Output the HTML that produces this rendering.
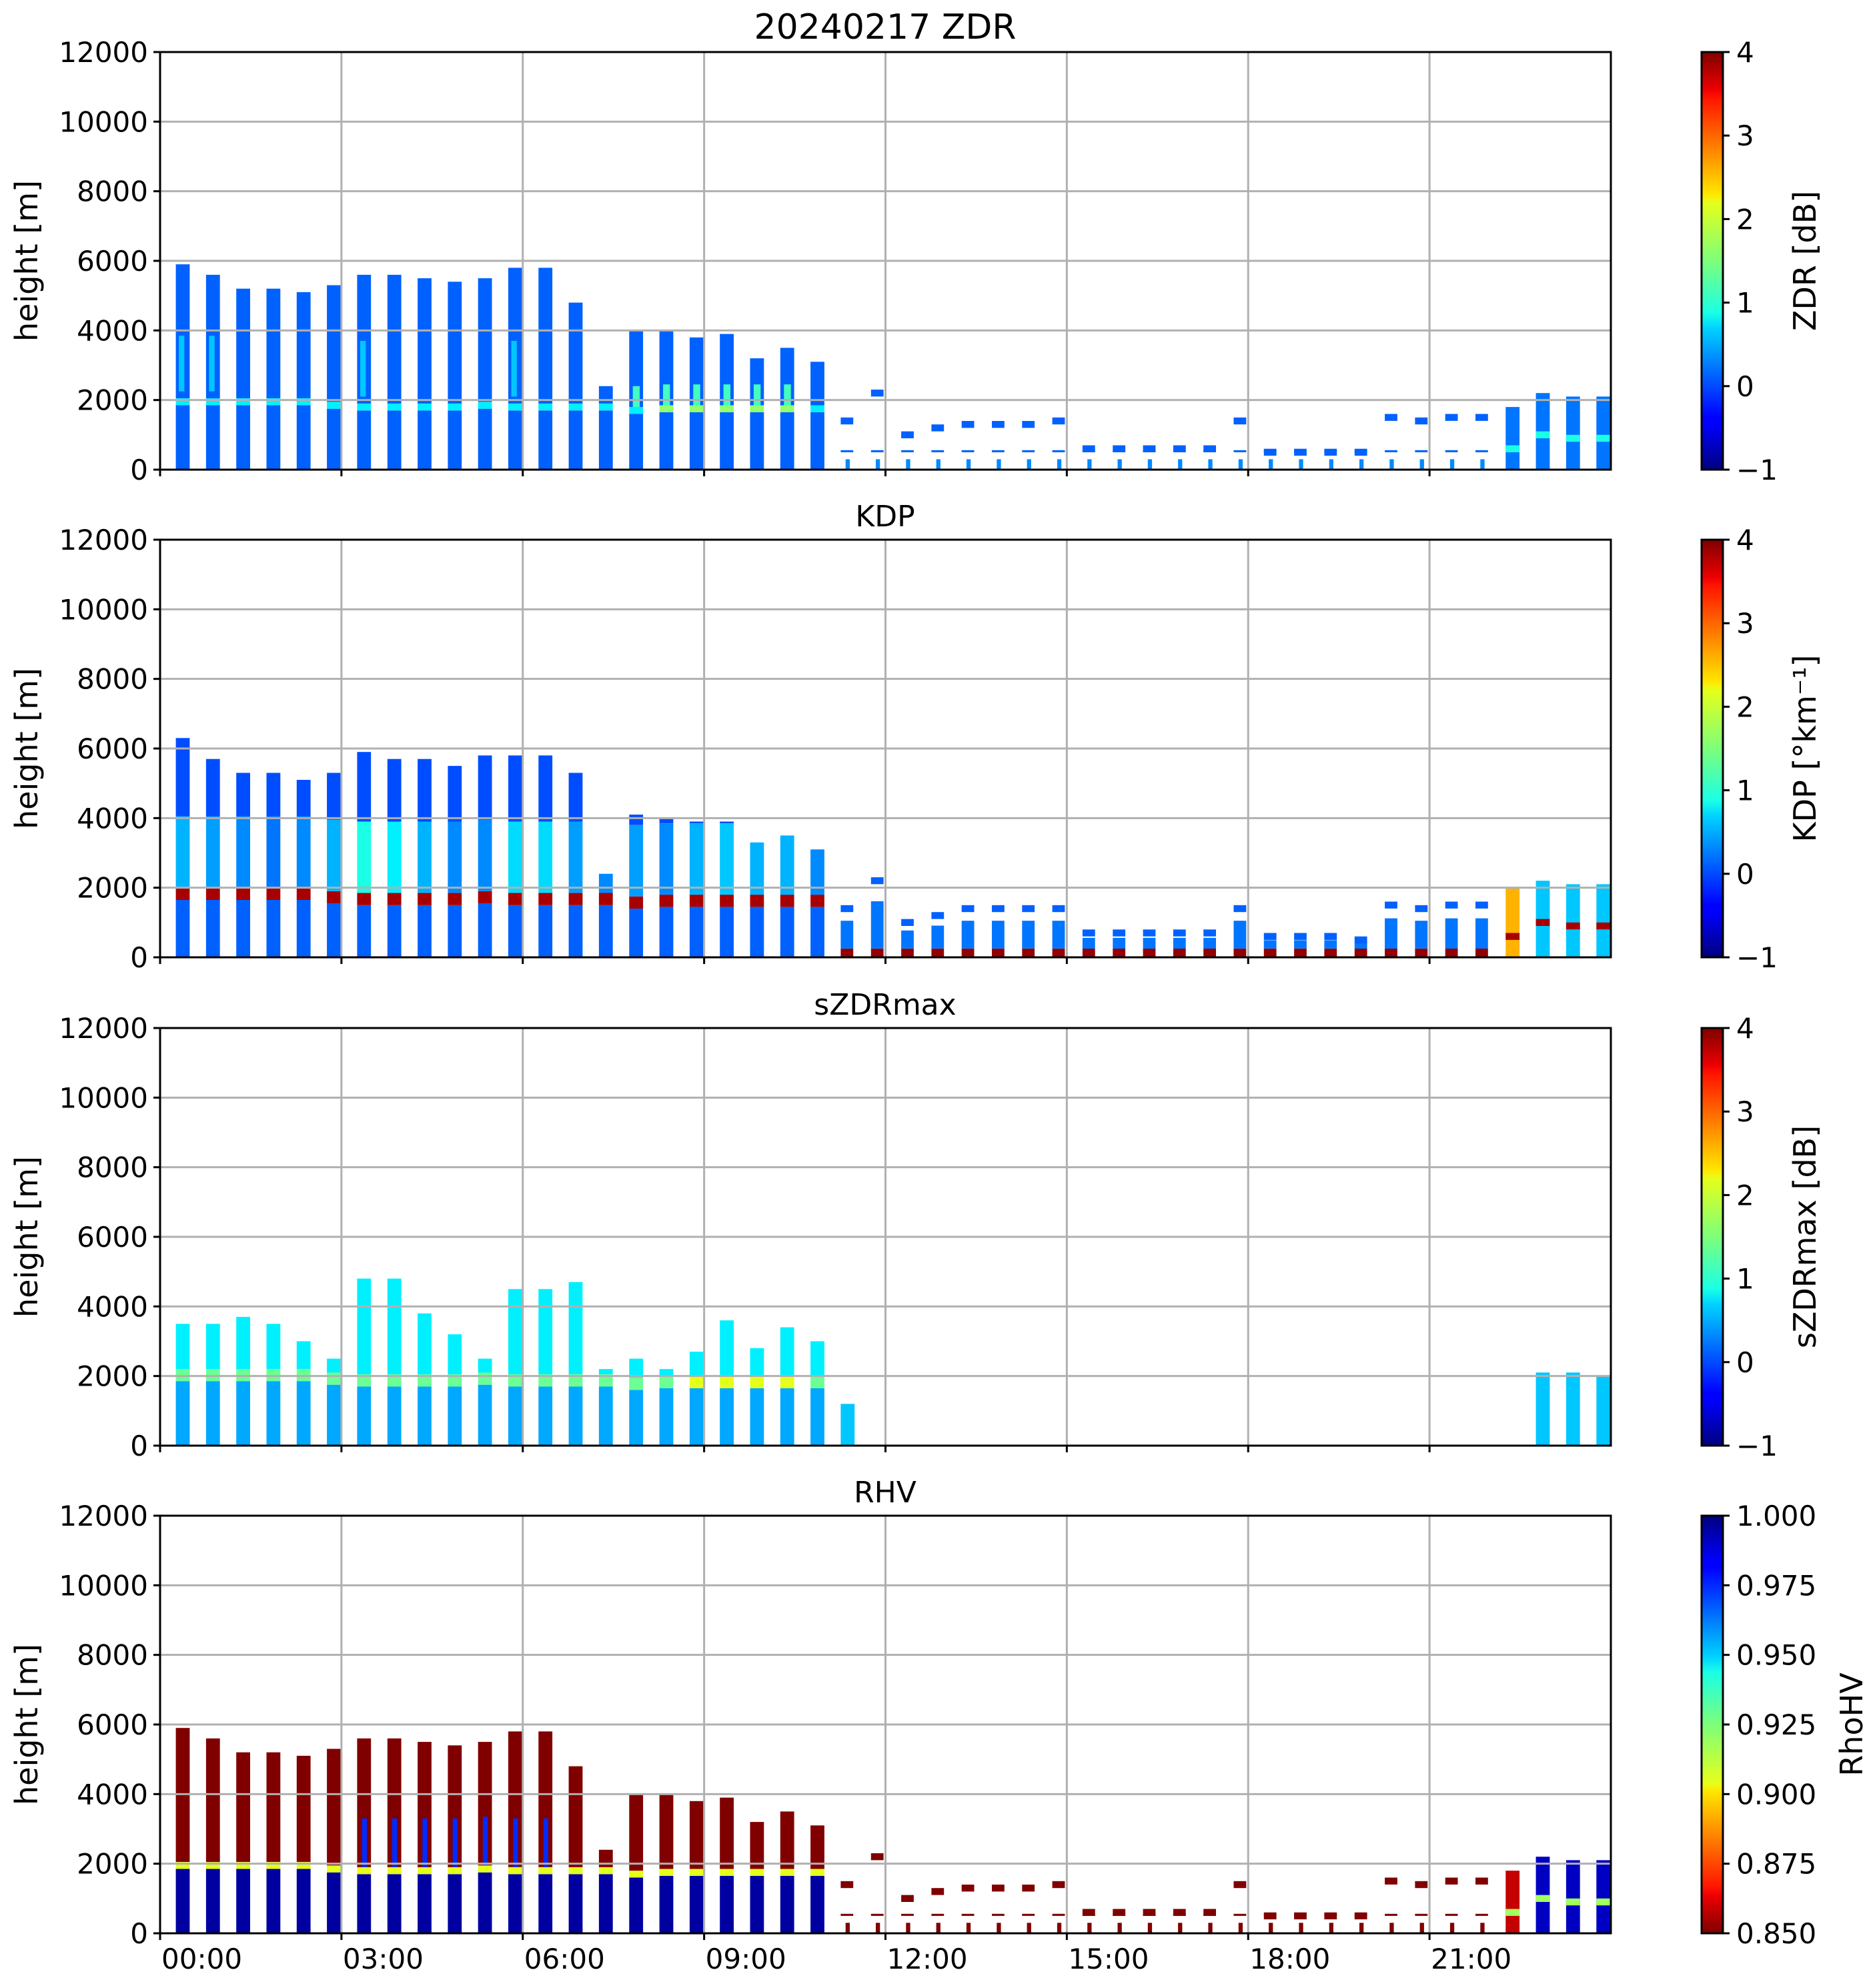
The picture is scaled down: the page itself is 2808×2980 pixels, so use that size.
<!DOCTYPE html>
<html><head><meta charset="utf-8">
<style>
html,body{margin:0;padding:0;background:#fff;}
svg{display:block;}
text{font-family:"DejaVu Sans","Liberation Sans",sans-serif;fill:#000;}
</style></head>
<body>
<svg id="fig" width="2808" height="2980" viewBox="0 0 2808 2980" xmlns="http://www.w3.org/2000/svg">
<defs>
<linearGradient id="jet" x1="0" y1="1" x2="0" y2="0">
<stop offset="0" stop-color="#00007f"/><stop offset="0.11" stop-color="#0000ff"/><stop offset="0.125" stop-color="#0000ff"/>
<stop offset="0.34" stop-color="#00d4ff"/><stop offset="0.375" stop-color="#1affe6"/><stop offset="0.5" stop-color="#7dff7a"/>
<stop offset="0.64" stop-color="#e6ff1a"/><stop offset="0.66" stop-color="#ffe600"/><stop offset="0.89" stop-color="#ff1400"/>
<stop offset="0.91" stop-color="#ed0000"/><stop offset="1" stop-color="#7f0000"/>
</linearGradient>
<linearGradient id="jetr" x1="0" y1="0" x2="0" y2="1">
<stop offset="0" stop-color="#00007f"/><stop offset="0.11" stop-color="#0000ff"/><stop offset="0.125" stop-color="#0000ff"/>
<stop offset="0.34" stop-color="#00d4ff"/><stop offset="0.375" stop-color="#1affe6"/><stop offset="0.5" stop-color="#7dff7a"/>
<stop offset="0.64" stop-color="#e6ff1a"/><stop offset="0.66" stop-color="#ffe600"/><stop offset="0.89" stop-color="#ff1400"/>
<stop offset="0.91" stop-color="#ed0000"/><stop offset="1" stop-color="#7f0000"/>
</linearGradient>
</defs>
</svg>
<script>
// ---- data ----
const columnTimes = [0.26,0.76,1.26,1.76,2.26,2.76,3.26,3.76,4.26,4.76,5.26,5.76,6.26,6.76,7.26,7.76,8.26,8.76,9.26,9.76,10.26,10.76,11.26,11.76,12.26,12.76,13.26,13.76,14.26,14.76,15.26,15.76,16.26,16.76,17.26,17.76,18.26,18.76,19.26,19.76,20.26,20.76,21.26,21.76,22.26,22.76,23.26,23.76];
const zdrTop  = [5900,5600,5200,5200,5100,5300,5600,5600,5500,5400,5500,5800,5800,4800,2400,4000,4000,3800,3900,3200,3500,3100,1500,2300,1100,1300,1400,1400,1400,1500,700,700,700,700,700,1500,600,600,600,600,1600,1500,1600,1600,1800,2200,2100,2100];
const kdpTop  = [6300,5700,5300,5300,5100,5300,5900,5700,5700,5500,5800,5800,5800,5300,2400,4100,4000,3900,3900,3300,3500,3100,1500,2300,1100,1300,1500,1500,1500,1500,800,800,800,800,800,1500,700,700,700,600,1600,1500,1600,1600,2000,2200,2100,2100];
const szdrTop = [3500,3500,3700,3500,3000,2500,4800,4800,3800,3200,2500,4500,4500,4700,2200,2500,2200,2700,3600,2800,3400,3000,1200,0,0,0,0,0,0,0,0,0,0,0,0,0,0,0,0,0,0,0,0,0,0,2100,2100,2000];
const meltHeight = [1850,1850,1850,1850,1850,1750,1700,1700,1700,1700,1750,1700,1700,1700,1700,1600,1650,1650,1650,1650,1650,1650,600,600,600,600,600,600,600,600,600,600,600,600,600,600,600,600,600,600,600,600,600,600,600,1000,900,900];
const kdpMidVal = [0.5,0.4,0.3,0.2,0.3,0.5,1.0,0.8,0.5,0.3,0.3,0.7,0.7,0.4,0.3,0.4,0.3,0.5,0.6,0.5,0.5,0.3];
const xTickLabels = ["00:00","03:00","06:00","09:00","12:00","15:00","18:00","21:00"];
const xTickHours = [0,3,6,9,12,15,18,21];
const yTicks = [0,2000,4000,6000,8000,10000,12000];
const cbTicksJet = [-1,0,1,2,3,4];
const cbTicksRhv = [0.850,0.875,0.900,0.925,0.950,0.975,1.000];

// ---- layout ----
const NS="http://www.w3.org/2000/svg";
const svg=document.getElementById('fig');
const AX_L=240, AX_R=2415, AX_H=626;
const panelTops=[78,809,1541,2272];
const CB_L=2551, CB_W=32;
function xScale(t){return AX_L+t*(AX_R-AX_L)/24;}
function yScale(h,p){return panelTops[p]+AX_H*(1-h/12000);}
function el(tag,attrs,parent){const e=document.createElementNS(NS,tag);for(const k in attrs)e.setAttribute(k,attrs[k]);(parent||svg).appendChild(e);return e;}
function jet(v){
  v=Math.max(0,Math.min(1,v));
  const r=Math.max(0,Math.min(1,1.5-Math.abs(4*v-3)));
  const g=Math.max(0,Math.min(1,1.5-Math.abs(4*v-2)));
  const b=Math.max(0,Math.min(1,1.5-Math.abs(4*v-1)));
  return 'rgb('+Math.round(r*255)+','+Math.round(g*255)+','+Math.round(b*255)+')';
}
function cZ(v){return jet((v+1)/5);}
function cR(v){return jet(1-(v-0.85)/0.15);}
const BW=0.23;

function seg(g,p,i,h0,h1,color,wf,xo){
  if(h1<=h0)return;
  const w=BW*(wf||1);
  const t0=columnTimes[i]+(xo||0);
  const x=xScale(t0);
  const r=el('rect',{x:x.toFixed(1),y:yScale(h1,p).toFixed(1),width:(xScale(t0+w)-x).toFixed(1),height:(yScale(h0,p)-yScale(h1,p)).toFixed(1),fill:color},g);
  
  
}

const titles=["20240217 ZDR","KDP","sZDRmax","RHV"];
const cbLabels=["ZDR [dB]","KDP [°km⁻¹]","sZDRmax [dB]","RhoHV"];
const panelNames=["zdr","kdp","szdrmax","rhv"];

for(let p=0;p<4;p++){
  const top=panelTops[p];
  const g=el('g',{});
  
  
  const tt=el('text',{x:1327,y:top-20,'text-anchor':'middle','font-size':p===0?52:44},g);
  tt.textContent=titles[p];
  
  
  const dg=el('g',{},g);
  
  
  for(let i=0;i<columnTimes.length;i++){
    const ml=meltHeight[i];
    const solid=i<=21;
    if(p===0){
      const t=zdrTop[i];
      if(solid){
        seg(dg,p,i,0,ml,cZ(0.1));
        seg(dg,p,i,ml,Math.min(t,ml+200),cZ(i>=16&&i<=20?1.6:0.8));
        seg(dg,p,i,ml+200,t,cZ(0.1));
        if(i>=15&&i<=20) seg(dg,p,i,ml+200,ml+800,cZ(1.2),0.5,0.06);
        if(i<=1||i===6||i===11) seg(dg,p,i,ml+400,ml+2000,cZ(0.6),0.4,0.05);
      } else if(i>=44){
        seg(dg,p,i,0,t,cZ(0.2));
        seg(dg,p,i,ml-100,ml+100,cZ(1.0));
      } else {
        seg(dg,p,i,t-200,t,cZ(0.1),0.9);
        seg(dg,p,i,500,560,cZ(0.1),0.9);
        seg(dg,p,i,0,300,cZ(0.3),0.3,0.08);
      }
    } else if(p===1){
      const t=kdpTop[i];
      if(solid){
        seg(dg,p,i,0,ml-200,cZ(0.1));
        seg(dg,p,i,ml-200,ml+150,cZ(3.8));
        const mt=Math.min(t,ml+2200);
        seg(dg,p,i,ml+150,mt,cZ(kdpMidVal[i]));
        seg(dg,p,i,mt,t,cZ(0.0));
      } else if(i>=44){
        seg(dg,p,i,0,t,cZ(i===44?2.5:0.6));
        seg(dg,p,i,ml-100,ml+100,cZ(3.8));
      } else {
        seg(dg,p,i,0,250,cZ(3.9),0.9);
        seg(dg,p,i,250,t*0.7,cZ(0.2),0.9);
        seg(dg,p,i,t-200,t,cZ(0.1),0.9);
      }
    } else if(p===2){
      const t=szdrTop[i];
      if(t<=0) continue;
      if(solid){
        seg(dg,p,i,0,Math.min(t,ml),cZ(0.45));
        seg(dg,p,i,ml,Math.min(t,ml+350),cZ(i>=17&&i<=20?2.0:1.4));
        seg(dg,p,i,ml+350,t,cZ(0.8));
      } else {
        seg(dg,p,i,0,t,cZ(0.6));
      }
    } else {
      const t=zdrTop[i];
      if(solid){
        seg(dg,p,i,0,ml,cR(0.995));
        seg(dg,p,i,ml,Math.min(t,ml+200),cR(0.91));
        seg(dg,p,i,ml+200,t,cR(0.85));
        if(i>=6&&i<=12) seg(dg,p,i,ml+200,ml+1600,cR(0.975),0.35,0.08);
      } else if(i>=44){
        seg(dg,p,i,0,t,cR(i===44?0.86:0.99));
        seg(dg,p,i,ml-100,ml+100,cR(0.92));
      } else {
        seg(dg,p,i,t-200,t,cR(0.85),0.9);
        seg(dg,p,i,500,560,cR(0.85),0.9);
        seg(dg,p,i,0,300,cR(0.85),0.3,0.08);
      }
    }
  }
  const gg=el('g',{},g);
  
  
  yTicks.forEach(v=>{
    if(v===0||v===12000)return;
    el('line',{x1:AX_L,x2:AX_R,y1:yScale(v,p),y2:yScale(v,p),stroke:'#b0b0b0','stroke-width':3},gg);
  });
  xTickHours.forEach(h=>{
    if(h===0)return;
    el('line',{x1:xScale(h),x2:xScale(h),y1:top,y2:top+AX_H,stroke:'#b0b0b0','stroke-width':3},gg);
  });
  const fr=el('rect',{x:AX_L,y:top,width:AX_R-AX_L,height:AX_H,fill:'none',stroke:'#000','stroke-width':3},g);
  
  
  yTicks.forEach(v=>{
    const y=yScale(v,p);
    el('line',{x1:AX_L-10,x2:AX_L,y1:y,y2:y,stroke:'#000','stroke-width':3},g);
    const t=el('text',{x:AX_L-18,y:y+15,'text-anchor':'end','font-size':42},g);
    t.textContent=String(v);
    
    
  });
  const yl=el('text',{x:0,y:0,'text-anchor':'middle','font-size':46,transform:'translate(56,'+(top+AX_H/2)+') rotate(-90)'},g);
  yl.textContent='height [m]';
  
  
  xTickHours.forEach((h,k)=>{
    const x=xScale(h);
    el('line',{x1:x,x2:x,y1:top+AX_H,y2:top+AX_H+10,stroke:'#000','stroke-width':3},g);
    if(p===3){
      const t=el('text',{x:x+2,y:top+AX_H+53,'text-anchor':'start','font-size':42},g);
      t.textContent=xTickLabels[k];
      
      
    }
  });
  const cb=el('g',{},g);
  
  
  el('rect',{x:CB_L,y:top,width:CB_W,height:AX_H,fill:p===3?'url(#jetr)':'url(#jet)',stroke:'#000','stroke-width':3},cb);
  const ticks=p===3?cbTicksRhv:cbTicksJet;
  ticks.forEach(v=>{
    const f=p===3?(v-0.85)/0.15:(v+1)/5;
    const y=top+AX_H*(1-f);
    el('line',{x1:CB_L+CB_W,x2:CB_L+CB_W+10,y1:y,y2:y,stroke:'#000','stroke-width':3},cb);
    const t=el('text',{x:CB_L+CB_W+20,y:y+15,'font-size':42},cb);
    t.textContent=p===3?v.toFixed(3):(v<0?'\u2212'+Math.abs(v):String(v));
    
    
  });
  const cl=el('text',{x:0,y:0,'text-anchor':'middle','font-size':46,transform:'translate('+(p===3?2792:2722)+','+(top+AX_H/2)+') rotate(-90)'},cb);
  cl.textContent=cbLabels[p];
  
  
}
</script>
</body></html>
